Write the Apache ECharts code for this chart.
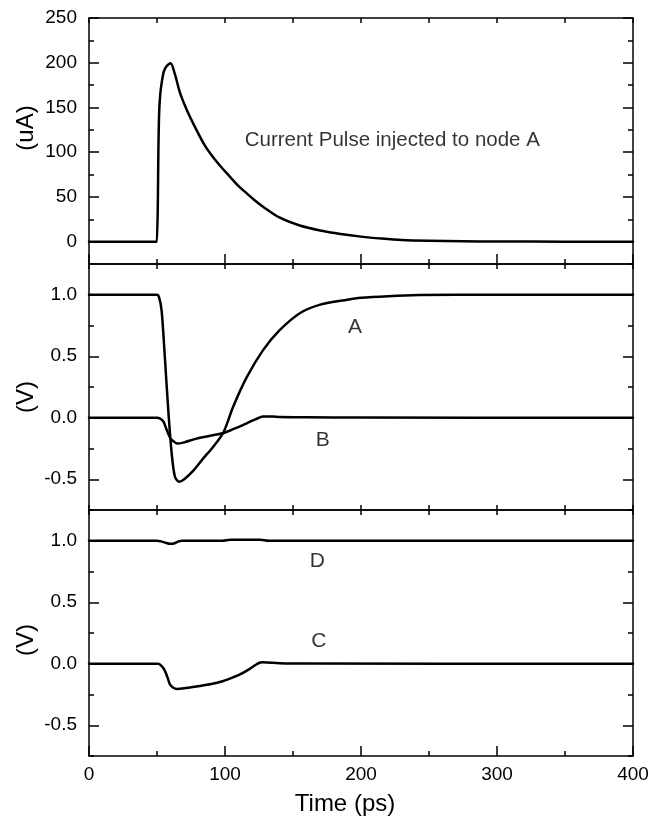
<!DOCTYPE html>
<html><head><meta charset="utf-8">
<script src="https://cdn.jsdelivr.net/npm/echarts@6/dist/echarts.min.js"></script>
<style>html,body{margin:0;padding:0;background:#fff}#c{width:649px;height:816px}</style>
</head><body><div id="c"></div>
<script>
// ---- data ----
const tPulse = [0, 50, 50.3, 50.6, 51, 51.6, 52.4, 53.5, 55, 57, 60, 63, 67, 72, 79, 85, 91, 98, 104, 110, 116, 122, 128, 140, 155, 170, 185, 200, 215, 230, 250, 275, 300, 350, 400];
const iPulse = [0, 0, 0, 40, 100, 145, 165, 178, 190, 196, 199.5, 188, 166, 147, 125, 108, 95, 82, 72, 62, 54, 46, 39, 27, 18, 12.4, 8.5, 5.6, 3.5, 1.9, 1, 0.4, 0.2, 0, 0];

const tA = [0, 50, 51.5, 53.4, 55.9, 58.3, 60.8, 63.2, 66.4, 70, 76.7, 84, 91.4, 98.8, 106, 116, 128, 140, 155, 170, 190, 200, 220, 243, 270, 400];
const vA = [1, 1, 0.98, 0.87, 0.47, 0.06, -0.29, -0.48, -0.52, -0.50, -0.43, -0.33, -0.235, -0.12, 0.09, 0.33, 0.55, 0.71, 0.85, 0.92, 0.96, 0.975, 0.988, 0.997, 1, 1];

const tB = [0, 50, 52, 54.7, 56.5, 58.3, 60, 62, 64.9, 70, 79, 90, 100, 111, 116, 120.8, 125, 128, 135, 140, 160, 200, 400];
const vB = [0, 0, -0.005, -0.03, -0.08, -0.13, -0.17, -0.19, -0.21, -0.20, -0.17, -0.145, -0.12, -0.07, -0.045, -0.02, 0, 0.01, 0.01, 0.006, 0.004, 0.002, 0];

const tD = [0, 50, 53, 56, 59.6, 63, 66, 68, 98, 104, 126, 132, 400];
const vD = [1, 1, 0.995, 0.985, 0.975, 0.98, 0.995, 1, 1, 1.008, 1.008, 1, 1];

const tC = [0, 51, 53.5, 55.9, 58, 59.6, 62, 64.5, 70, 79, 90, 98.8, 105, 111, 117, 123, 126, 128, 140, 160, 400];
const vC = [0, 0, -0.02, -0.06, -0.12, -0.17, -0.195, -0.205, -0.2, -0.185, -0.165, -0.14, -0.115, -0.087, -0.05, -0.006, 0.01, 0.013, 0.005, 0.002, 0];

// axis ticks / labels
const xTicks = [0, 100, 200, 300, 400];
const yTicksPulse = [0, 50, 100, 150, 200, 250];
const yTicksV = [-0.5, 0.0, 0.5, 1.0];
const yNames = ['(uA)', '(V)', '(V)'];
const xName = 'Time (ps)';

// annotations (text, panel, time, value)
const annoText = ['Current Pulse injected to node A', 'A', 'B', 'D', 'C'];
const annoPanel = [0, 1, 1, 2, 2];
const annoT = [223, 195.6, 171.8, 167.9, 169];
const annoV = [113.5, 0.735, -0.18, 0.83, 0.18];

// ---- build chart ----
const FONT = 'Liberation Sans, Arial, sans-serif';
const BLACK = '#000';
const chart = echarts.init(document.getElementById('c'), null, {renderer: 'canvas'});

const panels = [
  {min: -25, max: 250, minor: 25, majors: yTicksPulse, fmt: v => String(v)},
  {min: -0.75, max: 1.25, minor: 0.25, majors: yTicksV, fmt: v => v.toFixed(1)},
  {min: -0.75, max: 1.25, minor: 0.25, majors: yTicksV, fmt: v => v.toFixed(1)}
];
const grids = [], xAxes = [], yAxes = [], series = [];
const mainX = [], mainY = [];
const gridTop = [18, 264, 510];
const tickLine = {color: BLACK, width: 1.5};
panels.forEach((p, g) => {
  grids.push({left: 89, right: 16, top: gridTop[g], height: 246, containLabel: false, outerBoundsMode: 'none'});
  const line = {show: true, onZero: false, lineStyle: {color: BLACK, width: 1.5}};
  // bottom x axis (main)
  mainX.push(xAxes.length);
  xAxes.push({type: 'value', gridIndex: g, position: 'bottom', min: 0, max: 400, interval: 100,
    axisLine: line, splitLine: {show: false},
    axisTick: {show: true, inside: true, length: g === 1 ? 5 : 10, lineStyle: tickLine},
    minorTick: {show: true, splitNumber: 2, length: 5, lineStyle: tickLine},
    axisLabel: {show: g === 2, customValues: xTicks, color: BLACK, fontFamily: FONT, fontSize: 19, margin: 9}
  });
  // top x axis
  xAxes.push({type: 'value', gridIndex: g, position: 'top', min: 0, max: 400, interval: 50,
    axisLine: line, splitLine: {show: false},
    axisTick: {show: true, inside: true, length: 5, lineStyle: tickLine},
    axisLabel: {show: false}
  });
  // left y axis (main)
  mainY.push(yAxes.length);
  yAxes.push({type: 'value', gridIndex: g, position: 'left', min: p.min, max: p.max, interval: p.minor,
    axisLine: line, splitLine: {show: false},
    axisTick: {show: true, inside: true, length: 10, customValues: p.majors, lineStyle: tickLine},
    axisLabel: {show: true, customValues: p.majors, formatter: p.fmt, color: BLACK, fontFamily: FONT, fontSize: 19, margin: 12}
  });
  // left minor ticks overlay
  yAxes.push({type: 'value', gridIndex: g, position: 'left', min: p.min, max: p.max, interval: p.minor,
    axisLine: {show: false, onZero: false}, splitLine: {show: false},
    axisTick: {show: true, inside: true, length: 5, lineStyle: tickLine},
    axisLabel: {show: false}
  });
  // right y axis
  yAxes.push({type: 'value', gridIndex: g, position: 'right', min: p.min, max: p.max, interval: p.minor,
    axisLine: line, splitLine: {show: false},
    axisTick: {show: true, inside: true, length: 10, customValues: p.majors, lineStyle: tickLine},
    axisLabel: {show: false}
  });
  yAxes.push({type: 'value', gridIndex: g, position: 'right', min: p.min, max: p.max, interval: p.minor,
    axisLine: {show: false, onZero: false}, splitLine: {show: false},
    axisTick: {show: true, inside: true, length: 5, lineStyle: tickLine},
    axisLabel: {show: false}
  });
});

function zip(t, v) { return t.map((x, i) => [x, v[i]]); }
function lineSeries(name, g, t, v) {
  return {name, type: 'line', xAxisIndex: mainX[g], yAxisIndex: mainY[g], data: zip(t, v),
    showSymbol: false, symbol: 'none', smooth: 0.3,
    lineStyle: {color: BLACK, width: 2.5, join: 'round', cap: 'round'}, silent: true, animation: false};
}
series.push(lineSeries('pulse', 0, tPulse, iPulse));
series.push(lineSeries('A', 1, tA, vA));
series.push(lineSeries('B', 1, tB, vB));
series.push(lineSeries('D', 2, tD, vD));
series.push(lineSeries('C', 2, tC, vC));

annoText.forEach((txt, i) => {
  const g = annoPanel[i];
  series.push({type: 'scatter', xAxisIndex: mainX[g], yAxisIndex: mainY[g], symbolSize: 0,
    silent: true, animation: false,
    data: [{name: txt, value: [annoT[i], annoV[i]]}],
    label: {show: true, position: 'inside', formatter: '{b}', color: BLACK, fontFamily: FONT, fontSize: i === 0 ? 20.5 : 21}
  });
});

const yNameY = [128, 397, 640];
const graphic = yNames.map((n, i) => ({type: 'text', x: 26, y: yNameY[i], rotation: Math.PI / 2,
  style: {text: n, fill: BLACK, font: '24px ' + FONT, align: 'center', verticalAlign: 'middle'}}));
graphic.push({type: 'text', x: 345, y: 804, style: {text: xName, fill: BLACK, font: '24px ' + FONT, align: 'center', verticalAlign: 'middle'}});

chart.setOption({backgroundColor: '#fff', animation: false, grid: grids, xAxis: xAxes, yAxis: yAxes, series, graphic});
</script></body></html>
